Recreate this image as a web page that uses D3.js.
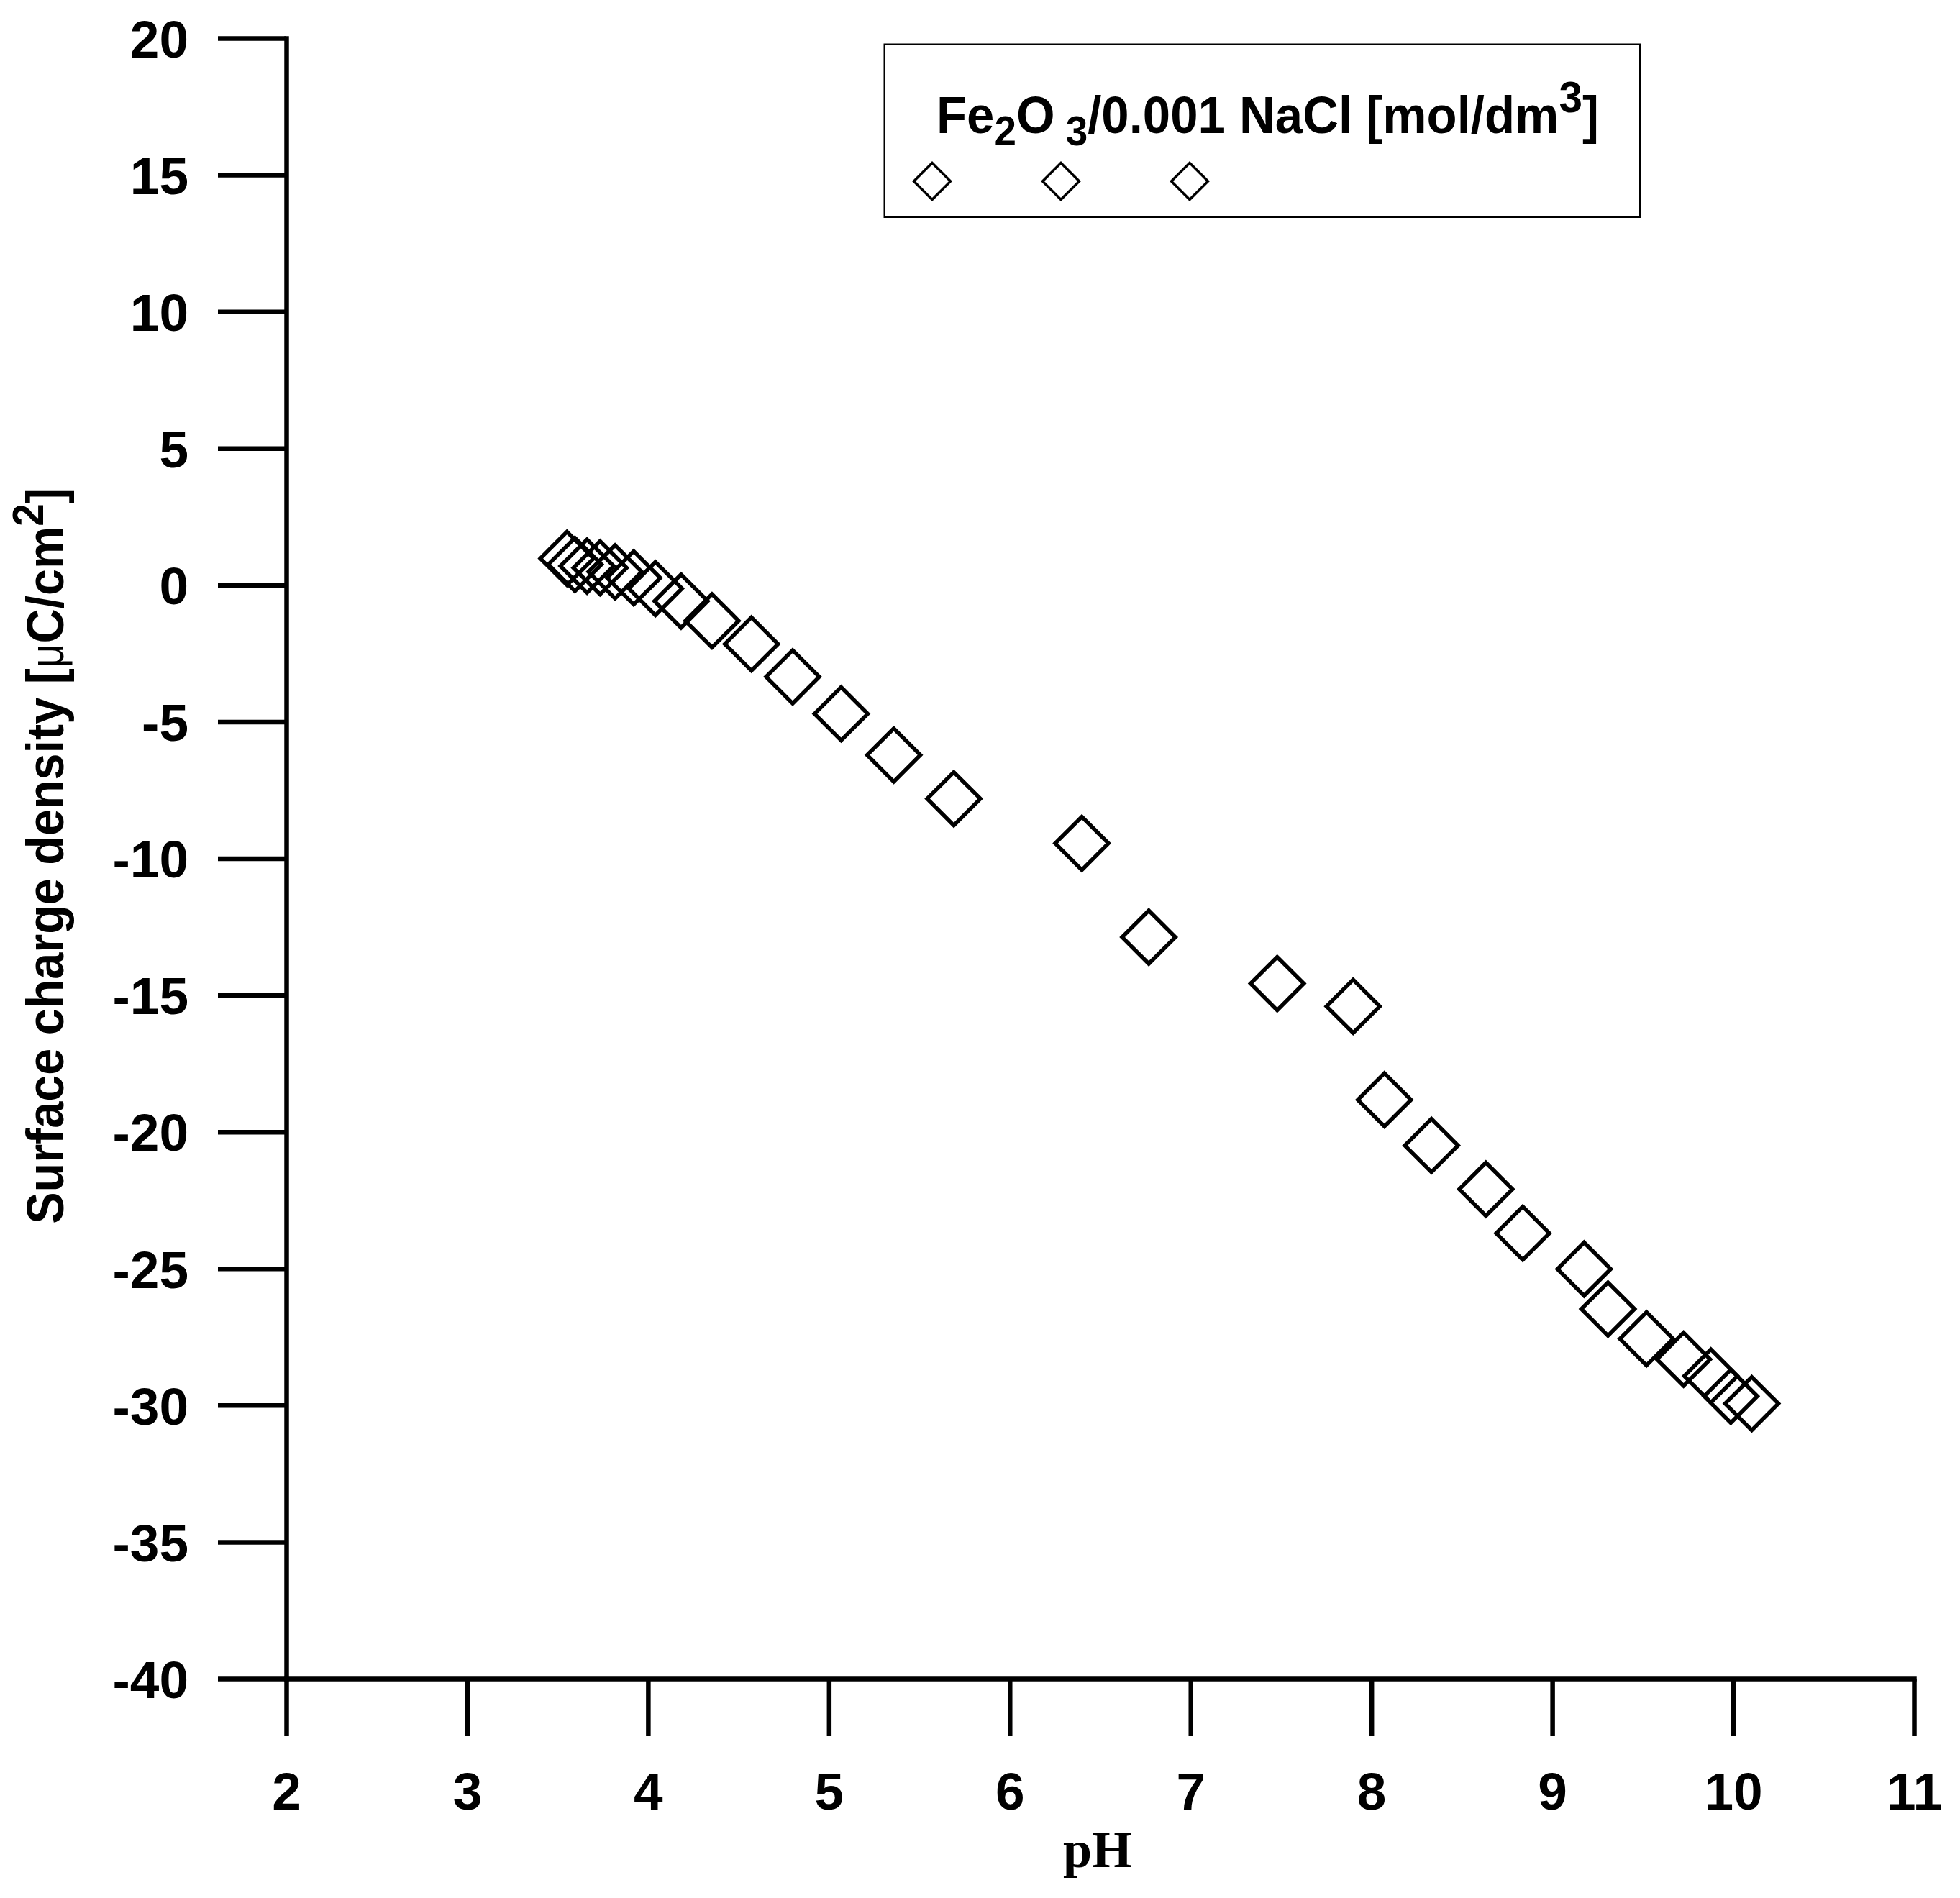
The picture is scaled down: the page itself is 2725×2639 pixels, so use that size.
<!DOCTYPE html>
<html><head><meta charset="utf-8">
<script src="https://cdn.jsdelivr.net/npm/d3@7"></script>
<style>body{margin:0;background:#fff}</style>
</head><body>
<svg id="c" width="2725" height="2639" xmlns="http://www.w3.org/2000/svg"></svg>
<script>
// ---- data ----
const pHValues = [3.552,3.596,3.663,3.735,3.818,3.921,4.041,4.183,4.354,4.572,4.800,5.068,5.359,5.691,6.399,6.769,7.479,7.899,8.072,8.332,8.633,8.837,9.176,9.308,9.521,9.726,9.877,9.987,10.103];
const sigmaValues = [0.97,0.75,0.69,0.63,0.48,0.26,-0.13,-0.59,-1.31,-2.16,-3.36,-4.71,-6.22,-7.82,-9.45,-12.88,-14.58,-15.41,-18.83,-20.50,-22.10,-23.71,-25.02,-26.48,-27.57,-28.32,-28.93,-29.67,-29.94];
const xTickValues = [2,3,4,5,6,7,8,9,10,11];
const xMinorValues = [2.5,3.5,4.5,5.5,6.5,7.5,8.5,9.5,10.5];
const yTickValues = [-40,-35,-30,-25,-20,-15,-10,-5,0,5,10,15,20];
const yMinorValues = [-37.5,-32.5,-27.5,-22.5,-17.5,-12.5,-7.5,-2.5,2.5,7.5,12.5,17.5];
const xTitle = "pH";
const yTitleParts = ["Surface charge density [", "\u03BC", "C/cm", "2", "]"];
const legendParts = ["Fe", "2", "O", "3", "/0.001 NaCl [mol/dm", "3", "]"];
const legendSymbolCount = 3;

// ---- layout ----
const svg = d3.select("#c");
const SANS = "'Liberation Sans', Arial, sans-serif";
const SERIF = "'Liberation Serif', 'Times New Roman', serif";
const x = d3.scaleLinear().domain([2, 11]).range([398, 2661]);
const y = d3.scaleLinear().domain([-40, 20]).range([2334, 53]);
const AX = 6.5;

svg.append("rect").attr("width", 2725).attr("height", 2639).attr("fill", "#fff");

// y axis
const gy = svg.append("g").attr("transform", `translate(${x(2)},0)`);
gy.call(d3.axisLeft(y).tickValues(yMinorValues).tickSize(41).tickSizeOuter(0).tickFormat(""));
gy.call(d3.axisLeft(y).tickValues(yTickValues).tickSize(95).tickSizeOuter(0).tickFormat(d => String(d)));
gy.selectAll("path.domain").attr("stroke", "#000").attr("stroke-width", AX).attr("stroke-linecap", "square");
gy.selectAll(".tick line").attr("stroke", "#000").attr("stroke-width", AX);
gy.selectAll(".tick text").attr("x", -136).attr("dy", "0.36em")
  .attr("font-family", SANS).attr("font-weight", "bold").attr("font-size", 73).attr("fill", "#000");

// x axis
const gx = svg.append("g").attr("transform", `translate(0,${y(-40)})`);
gx.call(d3.axisBottom(x).tickValues(xMinorValues).tickSize(43).tickSizeOuter(0).tickFormat(""));
gx.call(d3.axisBottom(x).tickValues(xTickValues).tickSize(80).tickSizeOuter(0).tickFormat(d => String(d)));
gx.selectAll("path.domain").attr("stroke", "#000").attr("stroke-width", AX).attr("stroke-linecap", "square");
gx.selectAll(".tick line").attr("stroke", "#000").attr("stroke-width", AX);
gx.selectAll(".tick text").attr("y", 182).attr("dy", 0)
  .attr("font-family", SANS).attr("font-weight", "bold").attr("font-size", 73).attr("fill", "#000");

// axis titles
svg.append("text").attr("x", 1526).attr("y", 2596).attr("text-anchor", "middle")
  .attr("font-family", SERIF).attr("font-weight", "bold").attr("font-size", 72).attr("fill", "#000")
  .text(xTitle);

const yt = svg.append("text").attr("text-anchor", "middle")
  .attr("font-family", SANS).attr("font-weight", "bold").attr("font-size", 73).attr("fill", "#000");
yt.append("tspan").text(yTitleParts[0]);
yt.append("tspan").attr("font-weight", "normal").attr("font-size", 66).text(yTitleParts[1]);
yt.append("tspan").text(yTitleParts[2]);
yt.append("tspan").attr("font-size", 62).attr("dy", -28).text(yTitleParts[3]);
yt.append("tspan").attr("dy", 28).text(yTitleParts[4]);
{
  const w = yt.node().getComputedTextLength();
  const s = 1024 / w;
  yt.attr("transform", `translate(88,1190) rotate(-90) scale(${s},1)`);
}

// data markers
const diamond = d3.symbol().type(d3.symbolSquare).size(2738);
svg.append("g").selectAll("path").data(pHValues.map((p, i) => [p, sigmaValues[i]]))
  .join("path")
  .attr("d", diamond)
  .attr("transform", d => `translate(${x(d[0])},${y(d[1])}) rotate(45)`)
  .attr("fill", "none").attr("stroke", "#000").attr("stroke-width", 5.5);

// legend
const lg = svg.append("g");
lg.append("rect").attr("x", 1229.5).attr("y", 61.5).attr("width", 1050.5).attr("height", 240.5)
  .attr("fill", "#fff").attr("stroke", "#000").attr("stroke-width", 2);
const lt = lg.append("text").attr("x", 1302).attr("y", 185)
  .attr("font-family", SANS).attr("font-weight", "bold").attr("font-size", 73).attr("fill", "#000");
lt.append("tspan").text(legendParts[0]);
lt.append("tspan").attr("font-size", 58).attr("dy", 17).text(legendParts[1]);
lt.append("tspan").attr("dy", -17).text(legendParts[2]);
lt.append("tspan").attr("font-size", 58).attr("dy", 17).attr("dx", 16).text(legendParts[3]);
lt.append("tspan").attr("dy", -17).text(legendParts[4]);
lt.append("tspan").attr("font-size", 62).attr("dy", -29).text(legendParts[5]);
lt.append("tspan").attr("dy", 29).text(legendParts[6]);
{
  const w = lt.node().getComputedTextLength();
  const s = 906 / w;
  lt.attr("transform", `translate(1302,0) scale(${s},1) translate(-1302,0)`);
}
const legSym = d3.symbol().type(d3.symbolSquare).size(1300);
lg.selectAll("path.sym").data(d3.range(legendSymbolCount)).join("path").attr("class", "sym")
  .attr("d", legSym)
  .attr("transform", i => `translate(${1296 + i * 179},252) rotate(45)`)
  .attr("fill", "none").attr("stroke", "#000").attr("stroke-width", 3.5);
</script>
</body></html>
